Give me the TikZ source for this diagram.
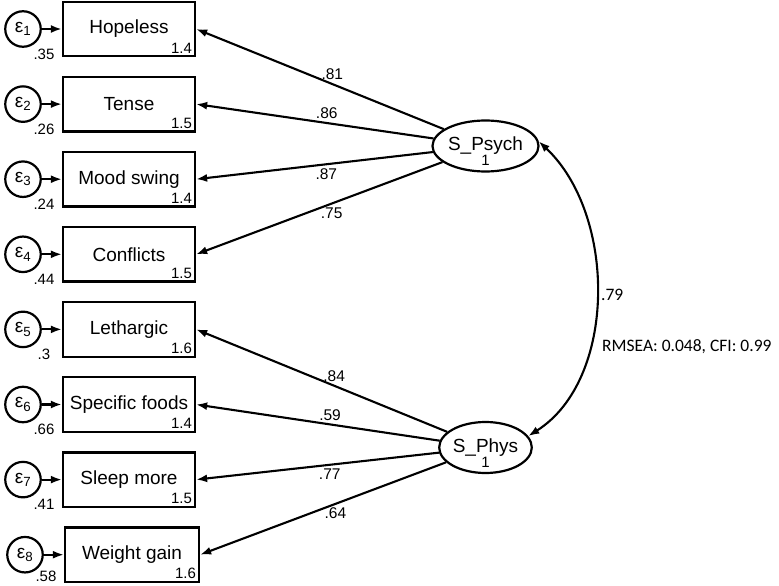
\documentclass[tikz,border=0pt]{standalone}
\usepackage{fontspec}
\setmainfont{Liberation Sans}
\newfontfamily\notefont{Carlito}
\usetikzlibrary{shapes.geometric, arrows.meta, positioning}

\begin{document}
\begin{tikzpicture}[
  x=1pt, y=-1pt,
  node distance=18.3pt,
  obs/.style={rectangle, draw, line width=2.3pt, minimum width=132pt, minimum height=54.5pt, font=\fontsize{19}{21}\selectfont},
  err/.style={circle, draw, line width=2.2pt, minimum size=35.5pt, inner sep=0pt, font=\fontsize{19}{21}\selectfont},
  latent/.style={ellipse, draw, line width=2.2pt, minimum width=89pt, minimum height=51pt, inner sep=0pt, font=\fontsize{19}{21}\selectfont},
  num/.style={font=\fontsize{15}{17}\selectfont, inner sep=1pt},
  coef/.style={font=\fontsize{15.5}{17}\selectfont, inner sep=3pt},
  note/.style={font=\notefont\fontsize{17.5}{19}\selectfont, inner sep=1pt},
  arr/.style={-{Latex[length=11pt,width=8pt]}, line width=2.1pt},
  cov/.style={{Latex[length=11pt,width=8pt]}-{Latex[length=11pt,width=8pt]}, line width=2.1pt}
]
  \useasboundingbox (0,0) rectangle (779,586);

  % observed symptoms
  \node[obs] (hop) at (129,29) {Hopeless};
  \node[obs, below=of hop] (tense) {Tense};
  \node[obs, below=of tense] (mood) {Mood swing};
  \node[obs, below=of mood] (confl) {Conflicts};
  \node[obs, below=of confl] (leth) {Lethargic};
  \node[obs, below=of leth] (food) {Specific foods};
  \node[obs, below=of food] (sleep) {Sleep more};
  \node[obs, below=of sleep, xshift=3pt, minimum width=134pt] (weight) {Weight gain};

  % intercepts
  \node[num, anchor=south east] (v1) at ([shift={(-3pt,3pt)}]hop.south east) {1.4};
  \node[num, anchor=south east] (v2) at ([shift={(-3pt,3pt)}]tense.south east) {1.5};
  \node[num, anchor=south east] (v3) at ([shift={(-3pt,3pt)}]mood.south east) {1.4};
  \node[num, anchor=south east] (v4) at ([shift={(-3pt,3pt)}]confl.south east) {1.5};
  \node[num, anchor=south east] (v5) at ([shift={(-3pt,3pt)}]leth.south east) {1.6};
  \node[num, anchor=south east] (v6) at ([shift={(-3pt,3pt)}]food.south east) {1.4};
  \node[num, anchor=south east] (v7) at ([shift={(-3pt,3pt)}]sleep.south east) {1.5};
  \node[num, anchor=south east] (v8) at ([shift={(-3pt,3pt)}]weight.south east) {1.6};

  % error terms
  \node[err, left=20pt of hop] (e1) {ε\textsubscript{1}};
  \node[err, left=20pt of tense] (e2) {ε\textsubscript{2}};
  \node[err, left=20pt of mood] (e3) {ε\textsubscript{3}};
  \node[err, left=20pt of confl] (e4) {ε\textsubscript{4}};
  \node[err, left=20pt of leth] (e5) {ε\textsubscript{5}};
  \node[err, left=20pt of food] (e6) {ε\textsubscript{6}};
  \node[err, left=20pt of sleep] (e7) {ε\textsubscript{7}};
  \node[err, left=20pt of weight] (e8) {ε\textsubscript{8}};

  \node[num] (ev1) at ([shift={(21pt,-25pt)}]e1.center) {.35};
  \node[num] (ev2) at ([shift={(21pt,-25pt)}]e2.center) {.26};
  \node[num] (ev3) at ([shift={(21pt,-25pt)}]e3.center) {.24};
  \node[num] (ev4) at ([shift={(21pt,-25pt)}]e4.center) {.44};
  \node[num] (ev5) at ([shift={(21pt,-25pt)}]e5.center) {.3};
  \node[num] (ev6) at ([shift={(21pt,-25pt)}]e6.center) {.66};
  \node[num] (ev7) at ([shift={(21pt,-25pt)}]e7.center) {.41};
  \node[num] (ev8) at ([shift={(21pt,-22pt)}]e8.center) {.58};

  \draw[arr] (e1) -- (hop);
  \draw[arr] (e2) -- (tense);
  \draw[arr] (e3) -- (mood);
  \draw[arr] (e4) -- (confl);
  \draw[arr] (e5) -- (leth);
  \draw[arr] (e6) -- (food);
  \draw[arr] (e7) -- (sleep);
  \draw[arr] (e8) -- (weight);

  % latent factors
  \node[latent] (psych) at (485.5,146) {S\_Psych};
  \node[latent] (phys) at (485.5,447.5) {S\_Phys};
  \node[num] (psychvar) at ([yshift=12pt]psych.south) {1};
  \node[num] (physvar) at ([yshift=12pt]phys.south) {1};

  % loadings
  \draw[arr] (psych) -- node[coef, pos=0.45, above] (l1) {.81} (hop.east);
  \draw[arr] (psych) -- node[coef, pos=0.45, above] (l2) {.86} (tense.east);
  \draw[arr] (psych) -- node[coef, pos=0.45, below] (l3) {.87} (mood.east);
  \draw[arr] (psych) -- node[coef, pos=0.45, below] (l4) {.75} (confl.east);
  \draw[arr] (phys) -- node[coef, pos=0.45, above] (l5) {.84} (leth.east);
  \draw[arr] (phys) -- node[coef, pos=0.45, above] (l6) {.59} (food.east);
  \draw[arr] (phys) -- node[coef, pos=0.45, below] (l7) {.77} (sleep.east);
  \draw[arr] (phys) -- node[coef, pos=0.45, below] (l8) {.64} (weight.east);

  % factor covariance
  \draw[cov] (psych.5) .. controls (617,215) and (617,380) .. node[note, right=3pt] (corr) {.79} (phys.15);
  \node[note, anchor=west] (fitstat) at (601,347) {RMSEA: 0.048, CFI: 0.99};
\end{tikzpicture}
\end{document}
